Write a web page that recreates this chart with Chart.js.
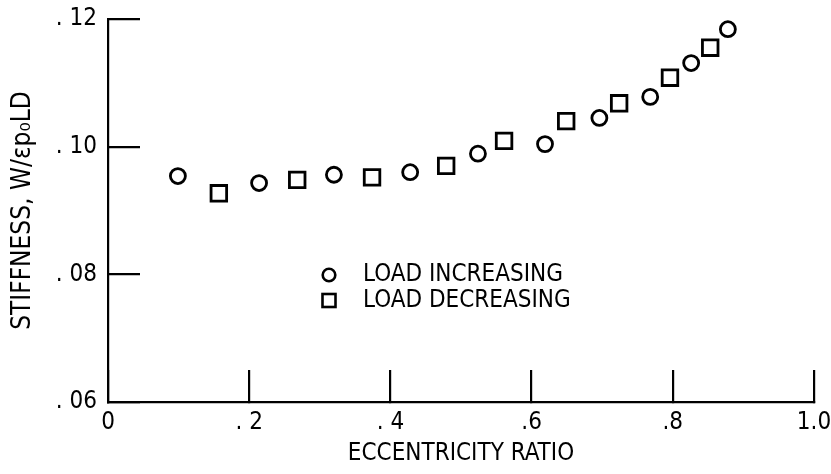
<!DOCTYPE html>
<html>
<head>
<meta charset="utf-8">
<script src="https://cdn.jsdelivr.net/npm/chart.js@4/dist/chart.umd.min.js"></script>
<style>
  html, body { margin: 0; padding: 0; background: #ffffff; }
  #wrap { width: 831px; height: 474px; }
</style>
</head>
<body>
<div id="wrap"><canvas id="c" width="831" height="474"></canvas></div>
<script>
// ---- data ----
const incX = [0.099, 0.214, 0.320, 0.428, 0.524, 0.619, 0.696, 0.768, 0.826, 0.878];
const incY = [0.0954, 0.0943, 0.0956, 0.0960, 0.0989, 0.1004, 0.1045, 0.1078, 0.1131, 0.1184];
const decX = [0.157, 0.268, 0.374, 0.479, 0.561, 0.649, 0.724, 0.796, 0.853];
const decY = [0.0927, 0.0948, 0.0952, 0.0970, 0.1009, 0.1040, 0.1068, 0.1108, 0.1155];
const xTickValues = [0, 0.2, 0.4, 0.6, 0.8, 1.0];
const xTickLabels = ['0', '. 2', '. 4', '.6', '.8', '1.0'];
const yTickValues = [0.06, 0.08, 0.10, 0.12];
const yTickLabels = ['. 06', '. 08', '. 10', '. 12'];
const seriesNames = ['LOAD INCREASING', 'LOAD DECREASING'];
const xTitle = 'ECCENTRICITY RATIO';
const yTitle = 'STIFFNESS, W/\u03B5p\u2080LD';

const FONT = "'Liberation Sans Narrow', 'DejaVu Sans Condensed', 'Arial Narrow', sans-serif";
const INK = '#000000';
const WEIGHT = 'normal';

function pts(xs, ys) { return xs.map((x, i) => ({ x: x, y: ys[i] })); }
function labelFor(values, labels, v) {
  for (let i = 0; i < values.length; i++) if (Math.abs(values[i] - v) < 1e-9) return labels[i];
  return '';
}

const legendPlugin = {
  id: 'inlineLegend',
  afterDraw(chart) {
    const ctx = chart.ctx;
    const a = chart.chartArea;
    const mx = a.left + 221;
    const tx = a.left + 255;
    const rows = [a.top + 256, a.top + 282];
    ctx.save();
    ctx.strokeStyle = INK;
    ctx.fillStyle = INK;
    ctx.lineWidth = 2.6;
    ctx.beginPath();
    ctx.arc(mx, rows[0], 6.3, 0, Math.PI * 2);
    ctx.stroke();
    ctx.strokeRect(mx - 6.5, rows[1] - 7, 13, 13);
    ctx.font = WEIGHT + ' 24px ' + FONT;
    ctx.textBaseline = 'middle';
    ctx.textAlign = 'left';
    ctx.fillText(seriesNames[0], tx, rows[0]);
    ctx.fillText(seriesNames[1], tx, rows[1]);
    ctx.restore();
  }
};

new Chart(document.getElementById('c'), {
  type: 'scatter',
  data: {
    datasets: [
      {
        label: seriesNames[0],
        data: pts(incX, incY),
        pointStyle: 'circle',
        pointRadius: 7.5,
        pointHoverRadius: 7.5,
        borderWidth: 2.8,
        borderColor: INK,
        backgroundColor: 'rgba(0,0,0,0)'
      },
      {
        label: seriesNames[1],
        data: pts(decX, decY),
        pointStyle: 'rect',
        pointRadius: 11,
        pointHoverRadius: 11,
        borderWidth: 2.8,
        borderColor: INK,
        backgroundColor: 'rgba(0,0,0,0)'
      }
    ]
  },
  options: {
    responsive: false,
    animation: false,
    events: [],
    layout: { padding: { left: 0, right: 17, top: 19, bottom: 0 } },
    plugins: {
      legend: { display: false },
      tooltip: { enabled: false }
    },
    scales: {
      x: {
        type: 'linear',
        min: 0,
        max: 1.0,
        afterBuildTicks(scale) { scale.ticks = xTickValues.map(v => ({ value: v })); },
        afterFit(scale) {
          scale.height = 72;
          scale.paddingLeft = 0;
          scale.paddingRight = 0;
        },
        ticks: {
          color: INK,
          font: { family: FONT, size: 24, weight: WEIGHT },
          padding: 38,
          maxRotation: 0,
          autoSkip: false,
          callback: (v) => labelFor(xTickValues, xTickLabels, v)
        },
        grid: {
          drawOnChartArea: false,
          drawTicks: true,
          tickLength: -32,
          color: INK,
          lineWidth: 2.2
        },
        border: { display: true, color: INK, width: 2.2 },
        title: {
          display: true,
          text: xTitle,
          color: INK,
          font: { family: FONT, size: 24, weight: WEIGHT },
          padding: { top: 0, bottom: 6 }
        }
      },
      y: {
        type: 'linear',
        min: 0.06,
        max: 0.12,
        afterBuildTicks(scale) { scale.ticks = yTickValues.map(v => ({ value: v })); },
        afterFit(scale) {
          scale.width = 108;
          scale.paddingTop = 0;
          scale.paddingBottom = 0;
        },
        ticks: {
          color: INK,
          font: { family: FONT, size: 24, weight: WEIGHT },
          padding: 43,
          autoSkip: false,
          callback: (v) => labelFor(yTickValues, yTickLabels, v)
        },
        grid: {
          drawOnChartArea: false,
          drawTicks: true,
          tickLength: -32,
          color: INK,
          lineWidth: 2.2
        },
        border: { display: true, color: INK, width: 2.2 },
        title: {
          display: true,
          text: yTitle,
          color: INK,
          font: { family: FONT, size: 26, weight: WEIGHT },
          padding: { top: 8, bottom: 0 }
        }
      }
    }
  },
  plugins: [legendPlugin]
});
</script>
</body>
</html>
